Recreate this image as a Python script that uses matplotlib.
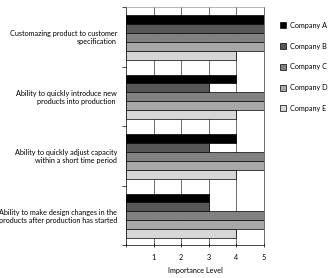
import matplotlib
matplotlib.use("Agg")
import matplotlib.pyplot as plt
import numpy as np
from matplotlib.patches import Patch

categories = [
    "Customazing product to customer\nspecification",
    "Ability to quickly introduce new\nproducts into production ",
    "Ability to quickly adjust capacity\nwithin a short time period",
    "Ability to make design changes in the\nproducts after production has started",
]
companies = ["Company A", "Company B", "Company C", "Company D", "Company E"]
values = {
    "Company A": [5, 4, 4, 3],
    "Company B": [5, 3, 3, 3],
    "Company C": [5, 5, 5, 5],
    "Company D": [5, 5, 5, 5],
    "Company E": [4, 4, 4, 4],
}
colors = ["#000000", "#575757", "#818181", "#a8a8a8", "#d6d6d6"]
x_ticks = [1, 2, 3, 4, 5]

plt.rcParams['font.family'] = ['Lato', 'DejaVu Sans']
fig = plt.figure(figsize=(3.30, 2.78), dpi=100)
ax = fig.add_axes([126/330, 1-245/278, 138/330, 238/278])

n = len(companies)
h = 0.151
ypos = np.arange(len(categories))
for i, comp in enumerate(companies):
    ax.barh(ypos + (i - (n-1)/2) * h + 0.012, values[comp], height=h,
            color=colors[i], edgecolor="black", linewidth=0.5, zorder=3,
            label=comp)

ax.set_xlim(0, 5)
ax.set_ylim(len(categories) - 0.5, -0.5)
ax.set_xticks([0] + x_ticks)
ax.set_xticklabels([""] + [str(t) for t in x_ticks], fontsize=5.2)
ax.set_yticks(ypos)
ax.set_yticklabels(categories, fontsize=5.2, multialignment="right")
ax.set_yticks(np.arange(len(categories) + 1) - 0.5, minor=True)
ax.tick_params(axis='y', which='major', length=0, pad=6.5)
ax.tick_params(axis='y', which='minor', length=3, width=0.5, direction='out')
ax.tick_params(axis='x', which='major', length=3, width=0.5, direction='inout', pad=5)
for x in x_ticks[:-1]:
    ax.axvline(x, color="#333333", linewidth=0.5, zorder=1)
for s in ["top", "left", "bottom", "right"]:
    ax.spines[s].set_linewidth(0.5)
ax.spines["top"].set_color("#999999")
ax.spines["right"].set_color("#333333")
ax.set_xlabel("Importance Level", fontsize=5.2, labelpad=4)

handles = [Patch(facecolor=c, edgecolor="black", linewidth=0.5) for c in colors]
fig.legend(handles, companies, loc="upper left", bbox_to_anchor=(277/330, 1-19/278),
           frameon=False, fontsize=5.2, handlelength=0.9, handleheight=0.9,
           handletextpad=0.5, labelspacing=1.9, borderaxespad=0)

fig.savefig("out.png", dpi=100)
